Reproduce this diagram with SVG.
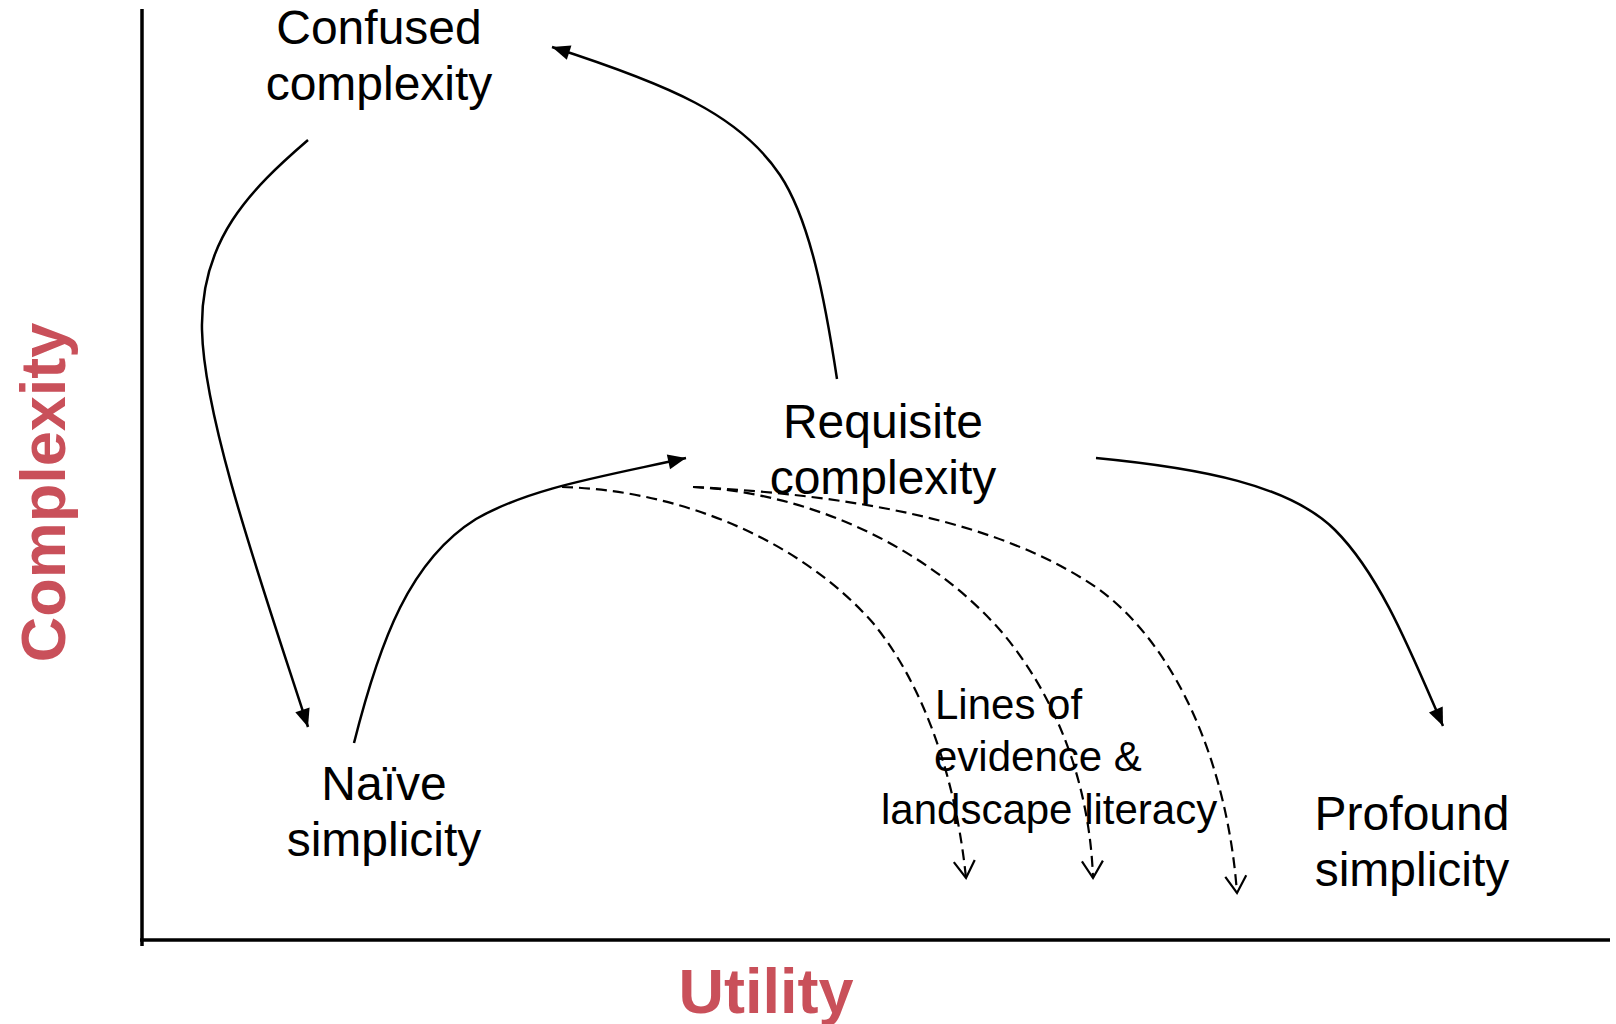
<svg xmlns="http://www.w3.org/2000/svg" width="1616" height="1024" viewBox="0 0 1616 1024">
<style>
.lbl{font-family:"Liberation Sans",Arial,sans-serif;font-size:48px;fill:#000;text-anchor:middle}
.small{font-family:"Liberation Sans",Arial,sans-serif;font-size:42px;fill:#000}
.axt{font-family:"Liberation Sans",Arial,sans-serif;font-size:63px;font-weight:bold;fill:#C9505A;text-anchor:middle}
.axis{stroke:#000;stroke-width:3.5;fill:none}
.solid{stroke:#000;stroke-width:2.5;fill:none;marker-end:url(#arr)}
.dash{stroke:#000;stroke-width:2.2;fill:none;stroke-dasharray:11 6;marker-end:url(#varr)}
</style>
<defs>
<marker id="arr" markerUnits="userSpaceOnUse" markerWidth="20" markerHeight="16" refX="18" refY="7.5" orient="auto" overflow="visible">
<path d="M0,0 L18,7.5 L0,15 z" fill="#000"/>
</marker>
<marker id="varr" markerUnits="userSpaceOnUse" markerWidth="20" markerHeight="24" refX="17" refY="11" orient="auto" overflow="visible">
<path d="M0,0.5 L17,11 L0,21.5" fill="none" stroke="#000" stroke-width="2.2" stroke-dasharray="none"/>
</marker>
</defs>
<rect width="1616" height="1024" fill="#fff"/>
<g id="axes">
<line class="axis" x1="142" y1="9" x2="142" y2="946"/>
<line class="axis" x1="140" y1="940" x2="1610" y2="940"/>
<text class="axt" transform="translate(65,492.5) rotate(-90)">Complexity</text>
<text class="axt" x="766" y="1013">Utility</text>
</g>
<g id="confused">
<text class="lbl" x="379" y="44">Confused</text>
<text class="lbl" x="379" y="100">complexity</text>
</g>
<g id="naive">
<text class="lbl" x="384" y="800">Naïve</text>
<text class="lbl" x="384" y="856">simplicity</text>
</g>
<g id="requisite">
<text class="lbl" x="883" y="438">Requisite</text>
<text class="lbl" x="883" y="494">complexity</text>
</g>
<g id="profound">
<text class="lbl" x="1412" y="830">Profound</text>
<text class="lbl" x="1412" y="886">simplicity</text>
</g>
<g id="lines-of-evidence">
<text class="small" x="935" y="719">Lines of</text>
<text class="small" x="934" y="771">evidence &amp;</text>
<text class="small" x="881" y="824">landscape literacy</text>
</g>
<g id="connectors">
<path class="solid" d="M308,140 C250,190 200,240 202,330 C204,420 262,585 308,727"/>
<path class="solid" d="M354,743 C380,640 410,560 476,519 C530,488 600,477 686,458"/>
<path class="solid" d="M837,379 C825,300 810,220 780,175 C740,115 670,85 552,47"/>
<path class="solid" d="M1096,458 C1200,468 1290,485 1335,530 C1380,575 1410,650 1443,726"/>
<path class="dash" d="M562,487 C680,490 800,540 873,623 C920,680 955,770 966,878"/>
<path class="dash" d="M693,487 C800,492 920,540 1000,630 C1060,700 1090,790 1093,878"/>
<path class="dash" d="M693,487 C850,495 1000,520 1100,590 C1180,650 1228,770 1237,893"/>
</g>
</svg>
